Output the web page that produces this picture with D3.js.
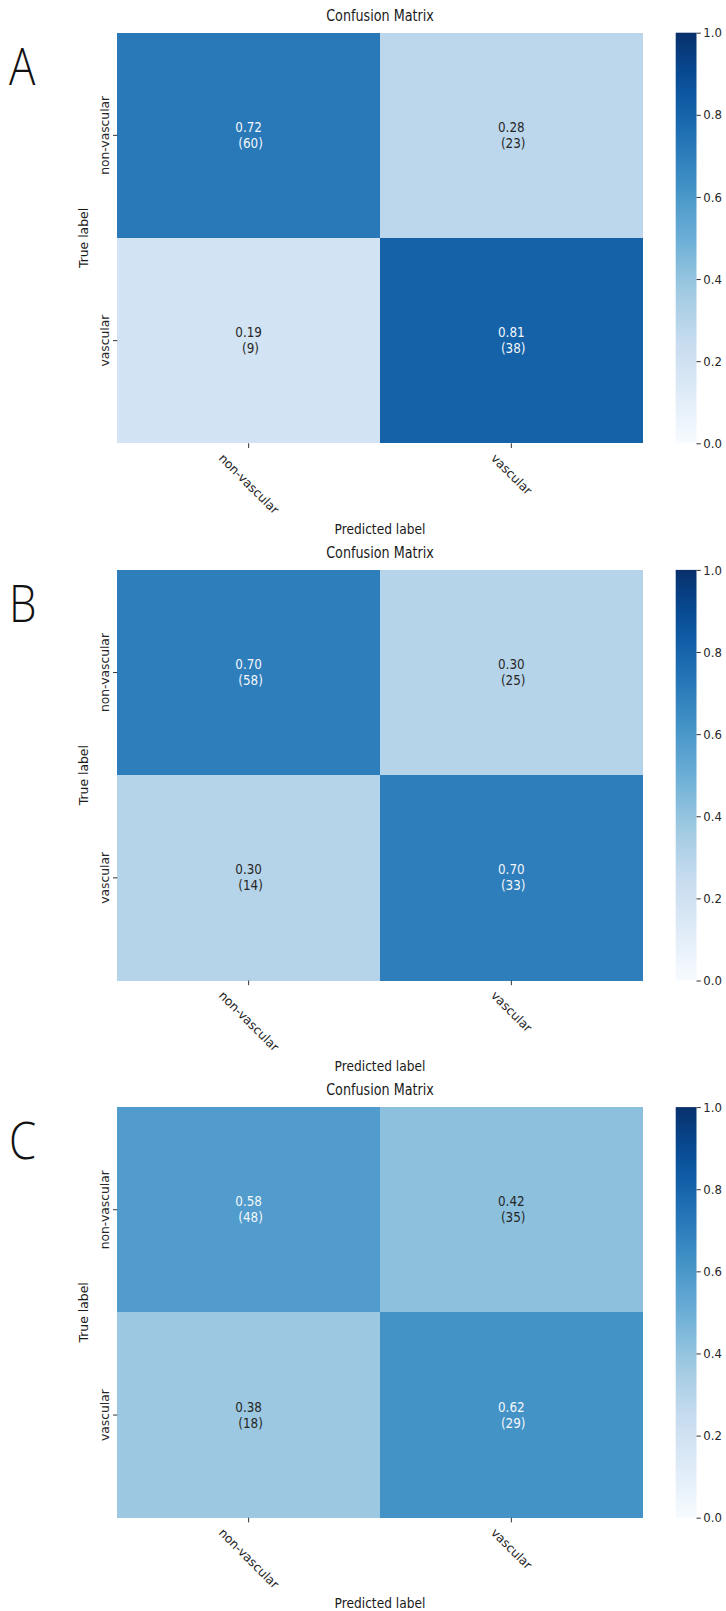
<!DOCTYPE html>
<html><head><meta charset="utf-8">
<script src="https://cdn.jsdelivr.net/npm/d3@7"></script>
<style>
html,body{margin:0;padding:0;background:#fff;}
svg text{font-family:"DejaVu Sans",sans-serif;}
.cond{font-family:"DejaVu Sans Condensed","DejaVu Sans",sans-serif;}
</style></head><body>
<svg id="chart" width="726" height="1611"></svg>
<script>
// ---------------- data ----------------
const panelLetters = ["A", "B", "C"];
const classLabels = ["non-vascular", "vascular"];
const ratesA = [[0.72, 0.28], [0.19, 0.81]];
const countsA = [[60, 23], [9, 38]];
const ratesB = [[0.70, 0.30], [0.30, 0.70]];
const countsB = [[58, 25], [14, 33]];
const ratesC = [[0.58, 0.42], [0.38, 0.62]];
const countsC = [[48, 35], [18, 29]];
const colorbarTicks = [0, 0.2, 0.4, 0.6, 0.8, 1.0];
const titleText = "Confusion Matrix";
const xAxisTitle = "Predicted label";
const yAxisTitle = "True label";

const panelRates = [ratesA, ratesB, ratesC];
const panelCounts = [countsA, countsB, countsC];

// matplotlib "Blues" colormap anchor colours
const bluesStops = ["#f7fbff","#deebf7","#c6dbef","#9ecae1","#6baed6","#4292c6","#2171b5","#08519c","#08306b"];
const color = d3.scaleLinear()
  .domain(bluesStops.map((_, i) => i / (bluesStops.length - 1)))
  .range(bluesStops).interpolate(d3.interpolateRgb).clamp(true);

// ---------------- layout ----------------
const panelH = 537.2;
const hm = {x0: 117.3, x1: 642.7, y0: 32.7, y1: 443.3};
const cb = {x0: 675.7, x1: 696.5};
const textDark = "#262626";
const textLight = "#f4f7fb";

const svg = d3.select("#chart");
const defs = svg.append("defs");
const grad = defs.append("linearGradient").attr("id", "cbgrad")
  .attr("x1", 0).attr("y1", 1).attr("x2", 0).attr("y2", 0);
d3.range(0, 1.0001, 0.05).forEach(t => {
  grad.append("stop").attr("offset", t).attr("stop-color", color(t));
});

panelLetters.forEach((letter, p) => {
  const rates = panelRates[p];
  const counts = panelCounts[p];
  const g = svg.append("g").attr("transform", `translate(0,${p * panelH})`);

  const x = d3.scaleBand().domain(classLabels).range([hm.x0, hm.x1]);
  const y = d3.scaleBand().domain(classLabels).range([hm.y0, hm.y1]);

  const cells = [];
  classLabels.forEach((t, i) => classLabels.forEach((pr, j) => {
    cells.push({trueL: t, predL: pr, rate: rates[i][j], count: counts[i][j]});
  }));

  g.selectAll("rect.cell").data(cells).join("rect")
    .attr("class", "cell")
    .attr("x", d => x(d.predL)).attr("y", d => y(d.trueL))
    .attr("width", x.bandwidth()).attr("height", y.bandwidth())
    .attr("fill", d => color(d.rate))
    .attr("shape-rendering", "crispEdges");

  const ann = g.selectAll("text.ann").data(cells).join("text")
    .attr("class", "ann cond")
    .attr("text-anchor", "middle")
    .style("white-space", "pre")
    .attr("font-size", 13.3)
    .attr("fill", d => d.rate > 0.5 ? textLight : textDark);
  ann.append("tspan")
    .attr("x", d => x(d.predL) + x.bandwidth() / 2)
    .attr("y", d => y(d.trueL) + y.bandwidth() / 2 - 8)
    .attr("dominant-baseline", "central")
    .text(d => d.rate.toFixed(2));
  ann.append("tspan")
    .attr("x", d => x(d.predL) + x.bandwidth() / 2)
    .attr("y", d => y(d.trueL) + y.bandwidth() / 2 + 8)
    .attr("dominant-baseline", "central")
    .text(d => " (" + d.count + ")");

  // x axis
  const xa = g.append("g").attr("transform", `translate(0,${hm.y1})`)
    .call(d3.axisBottom(x).tickSize(4.7).tickSizeOuter(0));
  xa.select(".domain").remove();
  xa.selectAll(".tick line").attr("stroke", "#333").attr("stroke-width", 1);
  xa.selectAll(".tick text")
    .attr("font-size", 12.3).attr("fill", textDark)
    .attr("y", null).attr("dy", null)
    .attr("text-anchor", "middle").attr("dominant-baseline", "central")
    .attr("transform", function () {
      const w = this.getComputedTextLength();
      const h = 9.5;
      return `translate(0,${9.5 + (w + h) * 0.3536}) rotate(45)`;
    });

  // y axis
  const ya = g.append("g").attr("transform", `translate(${hm.x0},0)`)
    .call(d3.axisLeft(y).tickSize(4.3).tickSizeOuter(0));
  ya.select(".domain").remove();
  ya.selectAll(".tick line").attr("stroke", "#333").attr("stroke-width", 1);
  ya.selectAll(".tick text")
    .attr("font-size", 12.3).attr("fill", textDark)
    .attr("x", null).attr("dy", null)
    .attr("text-anchor", "middle")
    .attr("transform", "translate(-8.8,0) rotate(-90)");

  // colorbar
  g.append("rect").attr("x", cb.x0).attr("y", hm.y0)
    .attr("width", cb.x1 - cb.x0).attr("height", hm.y1 - hm.y0)
    .attr("fill", "url(#cbgrad)");
  const cbScale = d3.scaleLinear().domain([0, 1]).range([hm.y1, hm.y0]);
  const ca = g.append("g").attr("transform", `translate(${cb.x1},0)`)
    .call(d3.axisRight(cbScale).tickValues(colorbarTicks).tickFormat(d3.format(".1f"))
      .tickSize(4.3).tickPadding(2.5).tickSizeOuter(0));
  ca.select(".domain").remove();
  ca.selectAll(".tick line").attr("stroke", "#333").attr("stroke-width", 1);
  ca.selectAll(".tick text").attr("class", "cond").attr("font-size", 13).attr("fill", textDark);

  // titles
  g.append("text").attr("class", "cond")
    .attr("transform", `translate(${(hm.x0 + hm.x1) / 2},21) scale(0.86,1)`)
    .attr("text-anchor", "middle").attr("font-size", 16.5).attr("fill", "#1a1a1a")
    .text(titleText);
  g.append("text").attr("class", "cond")
    .attr("x", (hm.x0 + hm.x1) / 2).attr("y", 534)
    .attr("text-anchor", "middle").attr("font-size", 13.6).attr("fill", "#1a1a1a")
    .text(xAxisTitle);
  g.append("text")
    .attr("transform", `translate(88,${(hm.y0 + hm.y1) / 2}) rotate(-90)`)
    .attr("text-anchor", "middle").attr("font-size", 12.4).attr("fill", "#1a1a1a")
    .text(yAxisTitle);

  // panel letter
  g.append("text")
    .attr("transform", "translate(9,85) scale(0.86,1)")
    .style("font-family", "'Open Sans', 'Noto Sans', sans-serif")
    .style("font-weight", 300)
    .attr("font-size", 51).attr("fill", "#111")
    .text(letter);
});
</script>
</body></html>
